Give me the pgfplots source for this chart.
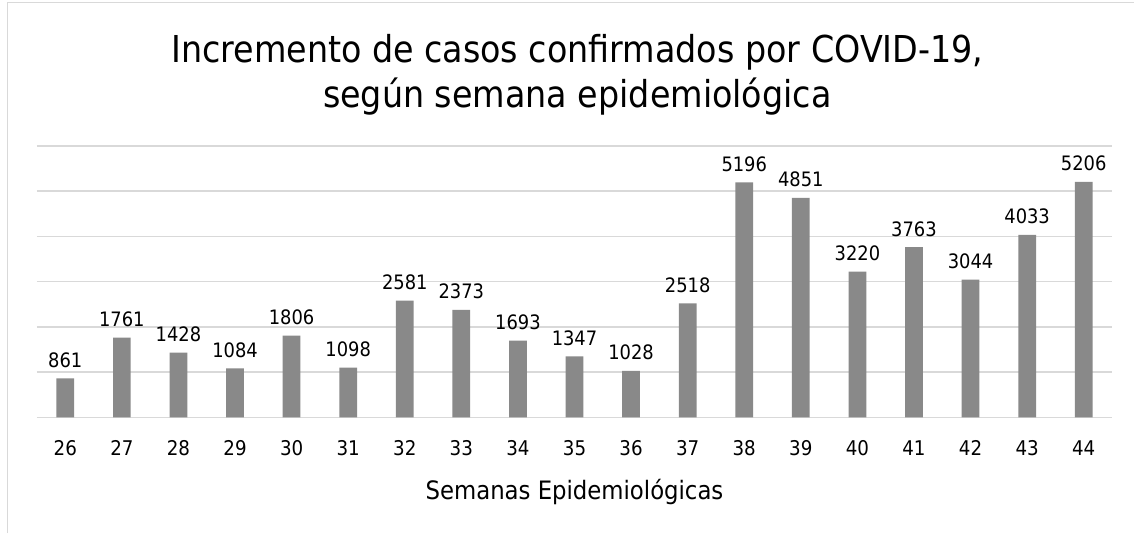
\documentclass[border=0pt]{standalone}
\usepackage{fontspec}
\setmainfont{DejaVu Sans Condensed}
\usepackage{pgfplots}
\pgfplotsset{compat=1.18}
\definecolor{bargray}{HTML}{898989}
\definecolor{gridgray}{HTML}{D9D9D9}
\begin{document}
\begin{tikzpicture}
\useasboundingbox (0,0) rectangle (850.5pt,399.75pt);
\draw[gridgray, line width=0.75pt] (5.25pt,0) -- (5.25pt,397.5pt) -- (850.5pt,397.5pt);
\begin{axis}[
  at={(27.75pt,86.78pt)}, anchor=south west,
  scale only axis, width=806.25pt, height=203.5pt,
  xmin=-0.5, xmax=18.5, ymin=0, ymax=6000,
  ybar, bar width=13.3pt,
  ytick={0,1000,2000,3000,4000,5000,6000}, yticklabels={},
  ymajorgrids, grid style={gridgray, line width=1.1pt},
  xtick=data,
  xticklabels={26,27,28,29,30,31,32,33,34,35,36,37,38,39,40,41,42,43,44},
  axis line style={draw=none}, major tick length=0pt,
  xticklabel style={font=\fontsize{15.2}{18}\selectfont, inner sep=0pt, anchor=base, yshift=-28.65pt},
  /pgf/number format/assume math mode=true,
  /pgf/number format/1000 sep={},
  nodes near coords,
  nodes near coords style={font=\fontsize{14.9}{17}\selectfont, inner sep=0pt, anchor=base, yshift=8.25pt, black},
  clip=false]
\addplot[fill=bargray, draw=none] coordinates {
(0,861) (1,1761) (2,1428) (3,1084) (4,1806) (5,1098) (6,2581) (7,2373) (8,1693) (9,1347)
(10,1028) (11,2518) (12,5196) (13,4851) (14,3220) (15,3763) (16,3044) (17,4033) (18,5206)};
\end{axis}
\node[anchor=base, inner sep=0pt, font=\fontsize{27.8}{32}\selectfont] at (433pt,352.5pt) {Incremento de casos confirmados por COVID-19,};
\node[anchor=base, inner sep=0pt, font=\fontsize{27.8}{32}\selectfont] at (433pt,319.5pt) {según semana epidemiológica};
\node[anchor=base, inner sep=0pt, font=\fontsize{19}{22}\selectfont] at (430.9pt,25.5pt) {Semanas Epidemiológicas};
\end{tikzpicture}
\end{document}
